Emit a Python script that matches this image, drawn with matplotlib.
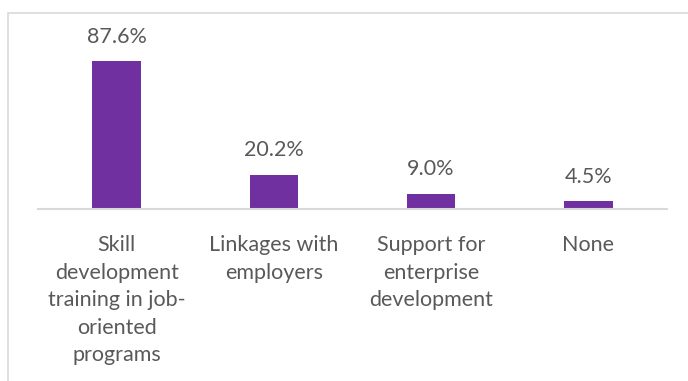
import matplotlib.pyplot as plt
from matplotlib.patches import Rectangle

# Support types and share of respondents
categories = ["Skill\ndevelopment\ntraining in job-\noriented\nprograms",
              "Linkages with\nemployers",
              "Support for\nenterprise\ndevelopment",
              "None"]
values = [87.6, 20.2, 9.0, 4.5]

bar_color = "#7030A0"
text_color = "#595959"

W, H = 688, 381
fig = plt.figure(figsize=(W / 100, H / 100), dpi=100)
plt.rcParams['font.family'] = ['Lato', 'DejaVu Sans']

# chart area border (cropped on right and bottom)
fig.patches.append(Rectangle((8 / W, -0.1), 1.2, 1.1 - 13 / H,
                             transform=fig.transFigure, fill=False,
                             edgecolor="#d9d9d9", linewidth=1.2))

ax = fig.add_axes([38 / W, (H - 209) / H, (667 - 38) / W, 169 / H])
x = range(len(values))
ax.bar(x, values, width=0.31, color=bar_color)
ax.set_xlim(-0.5, len(values) - 0.5)
ax.set_ylim(0, 100)

for xi, v in zip(x, values):
    ax.text(xi, v + 8.5, f"{v:.1f}%", ha="center", va="bottom",
            fontsize=15.5, color=text_color)

ax.set_xticks(list(x))
ax.set_xticklabels(categories, fontsize=15.5, color=text_color, linespacing=1.47)
ax.tick_params(axis="x", length=0, pad=19)
ax.set_yticks([])
for s in ["top", "right", "left"]:
    ax.spines[s].set_visible(False)
ax.spines["bottom"].set_color("#d9d9d9")
ax.spines["bottom"].set_linewidth(1.5)
ax.patch.set_alpha(0)

fig.savefig("out.png", dpi=100)
